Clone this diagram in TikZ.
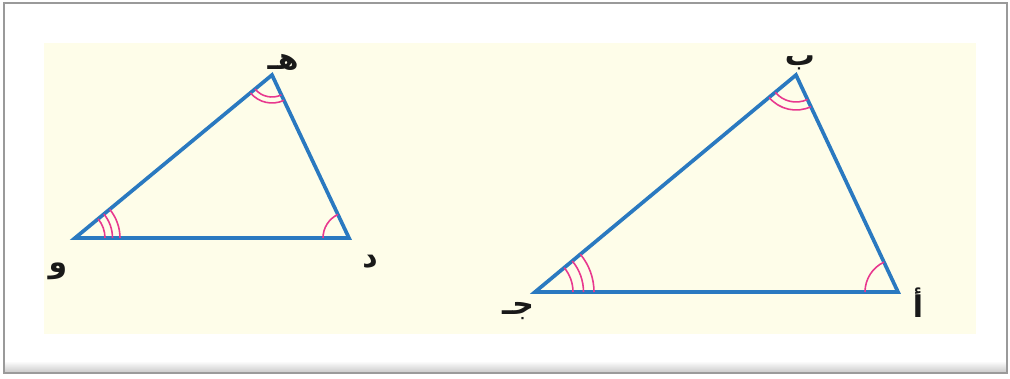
\documentclass[tikz,border=0pt]{standalone}
\usepackage{fontspec}
\usepackage{tikz}
\usetikzlibrary{angles,quotes}
\TeXXeTstate=1
\newfontfamily\arabschrift[Script=Arabic]{DejaVu Sans}
\definecolor{blau}{HTML}{2A79C0}
\definecolor{rosa}{HTML}{E8388E}
\definecolor{creme}{HTML}{FEFDE9}
\definecolor{grau}{HTML}{9A9A9A}
\tikzset{
  seite/.style={blau,line width=1.05pt,line join=miter},
  bogen/.style={draw=rosa,line width=0.45pt},
  marke/.style={font=\arabschrift\bfseries\fontsize{8.5}{10}\selectfont,inner sep=0pt,text=black!90},
  rahmen/.style={draw=grau,line width=0.6pt},
}
\begin{document}
\begin{tikzpicture}
  \useasboundingbox (0,0) rectangle (10.1,3.78);
  % Rahmen
  \shade[top color=white,bottom color=grau!55] (0.04,0.05) rectangle (10.07,0.17);
  \fill[white] (0.04,0.17) rectangle (10.07,3.75);
  \draw[rahmen] (0.04,0.05) rectangle (10.07,3.75);
  \fill[creme] (0.44,0.44) rectangle (9.76,3.35);
  % kleines Dreieck
  \coordinate (W) at (0.75,1.40);
  \coordinate (D) at (3.49,1.40);
  \coordinate (H) at (2.72,3.03);
  \draw[seite] (W)--(D)--(H)--cycle;
  \foreach \r in {0.30,0.375,0.45}{\pic[bogen,angle radius=\r cm] {angle=D--W--H};}
  \pic[bogen,angle radius=0.26cm] {angle=H--D--W};
  \foreach \r in {0.22,0.28}{\pic[bogen,angle radius=\r cm] {angle=W--H--D};}
  \node[marke] (lh) at (2.83,3.16) {\beginR هـ\endR};
  \node[marke] (lw) at (0.58,1.07) {\beginR و\endR};
  \node[marke] (ld) at (3.70,1.16) {\beginR د\endR};
  % grosses Dreieck
  \coordinate (C) at (5.35,0.86);
  \coordinate (A) at (8.98,0.86);
  \coordinate (B) at (7.96,3.03);
  \draw[seite] (C)--(A)--(B)--cycle;
  \foreach \r in {0.38,0.485,0.59}{\pic[bogen,angle radius=\r cm] {angle=A--C--B};}
  \pic[bogen,angle radius=0.33cm] {angle=B--A--C};
  \foreach \r in {0.27,0.35}{\pic[bogen,angle radius=\r cm] {angle=C--B--A};}
  \node[marke] (lb) at (8.00,3.15) {\beginR ب\endR};
  \node[marke] (la) at (9.18,0.75) {\beginR أ\endR};
  \node[marke] (lc) at (5.18,0.67) {\beginR جـ\endR};
\end{tikzpicture}
\end{document}
